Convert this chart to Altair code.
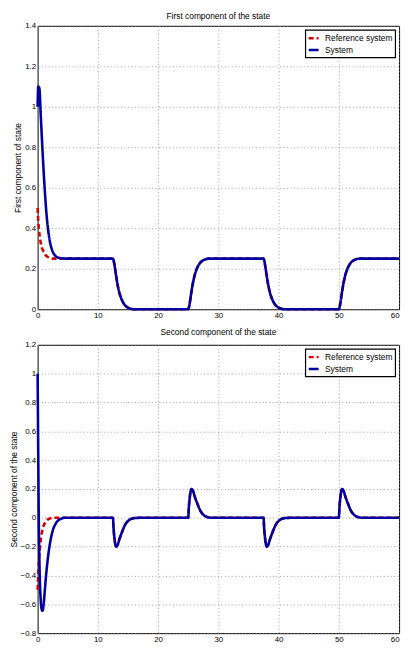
import altair as alt
import pandas as pd

series_names = ["Reference system", "System"]
RED = "#d60000"
BLUE = "#0000a0"
FONT = "Liberation Sans"

# ---- First component of the state ----
sys1_t = [0, 0.1, 0.3, 0.5, 0.75, 1.0, 1.25, 1.5, 1.75, 2.0, 2.5, 3.0, 3.5, 4.0, 5.0,
          12.5, 12.75, 13.0, 13.25, 13.5, 14.0, 14.5, 15.0, 15.5, 16.0,
          25.0, 25.25, 25.5, 25.75, 26.0, 26.5, 27.0, 27.5, 28.0, 28.5,
          37.5, 37.75, 38.0, 38.25, 38.5, 39.0, 39.5, 40.0, 40.5, 41.0,
          50.0, 50.25, 50.5, 50.75, 51.0, 51.5, 52.0, 52.5, 53.0, 53.5, 60.0]
sys1_v = [1.0, 1.1, 1.09, 0.97, 0.82, 0.68, 0.56, 0.46, 0.39, 0.34, 0.285, 0.262, 0.254, 0.251, 0.25,
          0.25, 0.22, 0.17, 0.125, 0.09, 0.045, 0.02, 0.008, 0.002, 0.0,
          0.0, 0.03, 0.08, 0.125, 0.16, 0.205, 0.23, 0.242, 0.248, 0.25,
          0.25, 0.22, 0.17, 0.125, 0.09, 0.045, 0.02, 0.008, 0.002, 0.0,
          0.0, 0.03, 0.08, 0.125, 0.16, 0.205, 0.23, 0.242, 0.248, 0.25, 0.25]
ref1_t_start = [0, 0.1, 0.2, 0.4, 0.6, 0.9, 1.2, 1.6, 2.0, 2.5]
ref1_v_start = [0.5, 0.44, 0.4, 0.35, 0.315, 0.29, 0.272, 0.26, 0.254, 0.25]

# ---- Second component of the state ----
sys2_t = [0, 0.1, 0.2, 0.35, 0.5, 0.65, 0.8, 1.0, 1.2, 1.4, 1.7, 2.0, 2.5, 3.0, 3.5, 4.0, 4.5,
          12.5, 12.6, 12.75, 12.9, 13.05, 13.3, 13.6, 14.0, 14.5, 15.0, 15.5, 16.0, 17.0,
          25.0, 25.1, 25.25, 25.4, 25.55, 25.8, 26.1, 26.5, 27.0, 27.5, 28.0, 28.5, 29.5,
          37.5, 37.6, 37.75, 37.9, 38.05, 38.3, 38.6, 39.0, 39.5, 40.0, 40.5, 41.0, 42.0,
          50.0, 50.1, 50.25, 50.4, 50.55, 50.8, 51.1, 51.5, 52.0, 52.5, 53.0, 53.5, 54.5, 60.0]
sys2_v = [1.0, 0.45, -0.05, -0.4, -0.56, -0.63, -0.645, -0.6, -0.5, -0.4, -0.28, -0.19, -0.09, -0.04, -0.015, -0.005, 0.0,
          0.0, -0.07, -0.14, -0.185, -0.2, -0.185, -0.145, -0.1, -0.05, -0.022, -0.008, -0.002, 0.0,
          0.0, 0.07, 0.14, 0.185, 0.2, 0.185, 0.145, 0.1, 0.05, 0.022, 0.008, 0.002, 0.0,
          0.0, -0.07, -0.14, -0.185, -0.2, -0.185, -0.145, -0.1, -0.05, -0.022, -0.008, -0.002, 0.0,
          0.0, 0.07, 0.14, 0.185, 0.2, 0.185, 0.145, 0.1, 0.05, 0.022, 0.008, 0.002, 0.0, 0.0]
ref2_t_start = [0, 0.1, 0.25, 0.4, 0.6, 0.8, 1.0, 1.3, 1.6, 2.0, 2.6]
ref2_v_start = [-0.5, -0.4, -0.28, -0.2, -0.13, -0.085, -0.055, -0.03, -0.015, -0.005, 0.0]

x_ticks = [0, 10, 20, 30, 40, 50, 60]
y1_ticks = [0, 0.2, 0.4, 0.6, 0.8, 1.0, 1.2, 1.4]
y2_ticks = [-0.8, -0.6, -0.4, -0.2, 0, 0.2, 0.4, 0.6, 0.8, 1.0, 1.2]


def build(ref_t0, ref_v0, sys_t, sys_v, cut):
    ref_t = list(ref_t0) + [t for t in sys_t if t >= cut]
    ref_v = list(ref_v0) + [v for t, v in zip(sys_t, sys_v) if t >= cut]
    a = pd.DataFrame({"t": ref_t, "v": ref_v, "series": "Reference system"})
    b = pd.DataFrame({"t": sys_t, "v": sys_v, "series": "System"})
    return pd.concat([a, b], ignore_index=True)


df1 = build(ref1_t_start, ref1_v_start, sys1_t, sys1_v, 5.0)
df2 = build(ref2_t_start, ref2_v_start, sys2_t, sys2_v, 4.5)

legend = alt.Legend(
    title=None, orient="top-right", offset=4, fillColor="white", strokeColor="black",
    padding=2, rowPadding=0, symbolType="stroke", symbolStrokeWidth=2.5, symbolSize=100,
    labelFontSize=8.5, labelFont=FONT, labelColor="black", labelLimit=200, labelOffset=5,
)


def panel(df, title, ytitle, yticks, ydom, h, toff):
    x = alt.X("t:Q", scale=alt.Scale(domain=[0, 60], nice=False),
              axis=alt.Axis(values=x_ticks, title=None, labelFlush=False,
                            labelAlign={"condition": {"test": "datum.value >= 60", "value": "right"},
                                        "value": "center"}))
    y = alt.Y("v:Q", scale=alt.Scale(domain=ydom, nice=False, zero=False),
              axis=alt.Axis(values=yticks, title=ytitle, labelExpr="format(datum.value, '~g')"))
    color = alt.Color("series:N", scale=alt.Scale(domain=series_names, range=[RED, BLUE]), legend=legend)
    dash = alt.StrokeDash("series:N", scale=alt.Scale(domain=series_names, range=[[5, 3], [1, 0]]), legend=legend)
    base = alt.Chart(df)
    ref = base.transform_filter(alt.datum.series == "Reference system").mark_line(
        strokeWidth=2.6, interpolate="monotone").encode(x=x, y=y, color=color, strokeDash=dash)
    sysl = base.transform_filter(alt.datum.series == "System").mark_line(
        strokeWidth=2.6, interpolate="monotone").encode(x=x, y=y, color=color, strokeDash=dash)
    return alt.layer(ref, sysl).properties(
        width=366, height=h,
        title=alt.Title(title, fontSize=8.5, font=FONT, fontWeight="normal", color="black", offset=toff),
    )


top = panel(df1, "First component of the state", "First component of state", y1_ticks, [0, 1.4], 287, 1)
bottom = panel(df2, "Second component of the state", "Second component of the state", y2_ticks, [-0.8, 1.2], 292, 4)

chart = alt.vconcat(top, bottom, spacing=8).resolve_scale(
    color="independent", strokeDash="independent"
).resolve_legend(
    color="independent", strokeDash="independent"
).properties(padding=0).configure_view(
    stroke="black", strokeWidth=1
).configure_axis(
    grid=True, gridColor="#888888", gridDash=[1, 2.5], gridWidth=0.8, domain=False, ticks=False,
    labelFont=FONT, labelFontSize=8, labelColor="black", labelPadding=2, minExtent=0,
    titleFont=FONT, titleFontSize=8.5, titleFontWeight="normal", titleColor="black", titlePadding=2,
).configure_legend(strokeWidth=1.2)

chart.save("out.html", embed_options={"renderer": "svg", "actions": False})
